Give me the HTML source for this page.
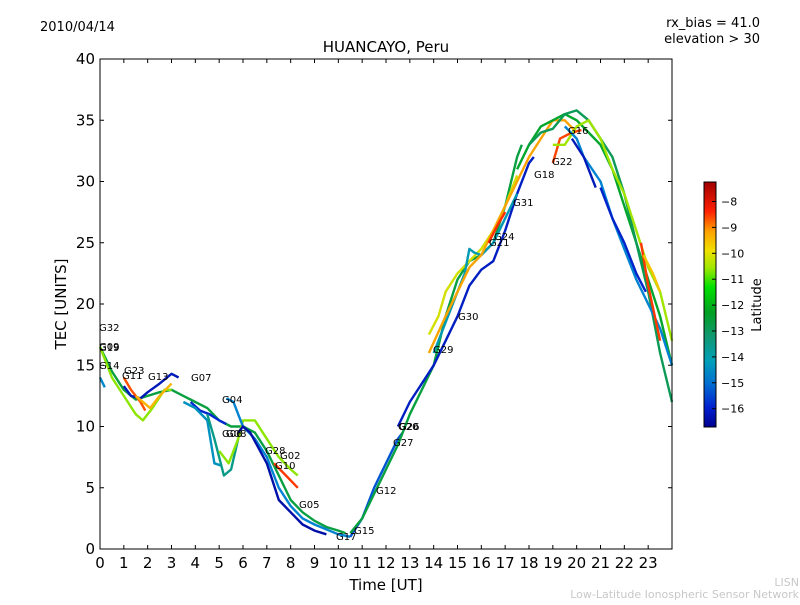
<!DOCTYPE html>
<html><head><meta charset="utf-8"><style>
body{margin:0;background:#fff;}
svg text{font-family:"DejaVu Sans","Liberation Sans",sans-serif;}
</style></head><body>
<svg id="chart" width="800" height="600" xmlns="http://www.w3.org/2000/svg">
<defs>
<linearGradient id="cbgrad" x1="0" y1="1" x2="0" y2="0">
<stop offset="0" stop-color="#00008f"/>
<stop offset="0.08" stop-color="#0020d0"/>
<stop offset="0.18" stop-color="#0070d0"/>
<stop offset="0.27" stop-color="#00a0b8"/>
<stop offset="0.37" stop-color="#109870"/>
<stop offset="0.47" stop-color="#00a020"/>
<stop offset="0.57" stop-color="#00e000"/>
<stop offset="0.65" stop-color="#a0e800"/>
<stop offset="0.72" stop-color="#f0e000"/>
<stop offset="0.80" stop-color="#ffa000"/>
<stop offset="0.88" stop-color="#ff2000"/>
<stop offset="1" stop-color="#a00000"/>
</linearGradient>
</defs>
<text x="40" y="31" font-size="13">2010/04/14</text>
<text x="760" y="27" font-size="13" text-anchor="end">rx_bias = 41.0</text>
<text x="760" y="43" font-size="13" text-anchor="end">elevation &gt; 30</text>
<text x="386" y="52" font-size="15" text-anchor="middle">HUANCAYO, Peru</text>
<g id="tracks"></g>
<g id="labels"></g>
<rect x="100" y="59" width="572" height="490" fill="none" stroke="#000" stroke-width="1"/>
<g id="axes"></g>
<text x="386" y="590" font-size="15" text-anchor="middle">Time [UT]</text>
<text x="0" y="0" font-size="15" text-anchor="middle" transform="translate(66,304) rotate(-90)">TEC [UNITS]</text>
<rect x="704" y="182" width="12" height="245" fill="url(#cbgrad)" stroke="#000" stroke-width="1"/>
<g id="cbticks"></g>
<text x="0" y="0" font-size="13" text-anchor="middle" transform="translate(761,305) rotate(-90)">Latitude</text>
<text x="799" y="586" font-size="11" fill="#c8c8c8" text-anchor="end">LISN</text>
<text x="799" y="598" font-size="11" fill="#c8c8c8" text-anchor="end">Low-Latitude Ionospheric Sensor Network</text>
</svg>
<script>
const xTicks=[0,1,2,3,4,5,6,7,8,9,10,11,12,13,14,15,16,17,18,19,20,21,22,23];
const yTicks=[0,5,10,15,20,25,30,35,40];
const cbTicks=[-8,-9,-10,-11,-12,-13,-14,-15,-16];
const trackLats=[-12.5,-11,-14.8,-16.3,-8.5,-9.5,-16,-14.5,-13.5,-11,-8.3,-15,-16.5,-15.5,-12.5,-10.3,-16.2,-14.2,-9.3,-8.2,-8.4,-12.2,-12.8,-10.8,-15,-16.3,-16.1,-8.3,-9.7];
const trackPts=[
[[0,16.5],[0.5,14.5],[1,13],[1.5,12.2],[2,12.5],[2.5,12.8],[3,13],[3.5,12.5],[4,12],[4.5,11.5],[5,10.5],[5.5,10],[6,10],[6.5,9.5],[7,8],[7.5,6],[8,4],[8.5,3],[9,2.3],[9.5,1.8],[10,1.5],[10.3,1.3]],
[[0,16.5],[0.5,14],[1,12.5],[1.5,11],[1.8,10.5],[2.2,11.5],[2.7,13],[3,13]],
[[0,14],[0.2,13.2]],
[[1,13.3],[1.3,12.5],[1.7,12.3],[2,12.8],[2.5,13.5],[3,14.3],[3.3,14]],
[[1,14],[1.3,13],[1.7,12],[1.9,11.3]],
[[1.5,12.5],[2.1,11.5],[2.5,12.5],[3,13.5]],
[[3.8,12],[4.2,11.3],[4.6,11],[5,10.5],[5.3,10.2]],
[[3.5,12],[4,11.5],[4.5,10.5],[4.8,7],[5.1,6.8]],
[[4.5,11],[4.8,9],[5.2,6],[5.5,6.5],[5.8,9]],
[[5,8],[5.4,7],[5.8,9],[6,10.5],[6.5,10.5],[7,9],[7.5,7.5],[8,6.5],[8.3,6]],
[[7.3,7],[7.8,6],[8.3,5]],
[[5.3,12.3],[5.6,12],[5.8,11],[6,10],[6.5,9],[7,7.5],[7.5,5],[8,3.5],[8.5,2.5],[9,2],[10,1.2],[10.5,1]],
[[5.8,9.5],[6,10],[6.3,9.5],[7,7],[7.5,4],[8,3],[8.5,2],[9,1.5],[9.5,1.2]],
[[10.5,1],[11,2.5],[11.5,5],[12,7],[12.5,9],[12.7,9.5]],
[[10.5,1.3],[11,2.5],[11.5,4.5],[12,6.5],[12.5,8.5],[13,11],[13.5,13],[14,15],[14.5,19],[15,22],[15.5,23.5],[16,24],[16.5,25],[17,28],[17.5,32],[17.7,33]],
[[13.8,17.5],[14.2,19],[14.5,21],[15,22.5],[15.5,23.5],[16,24.5],[16.5,26],[17,28],[17.5,30.5]],
[[12.5,10],[13,12],[13.5,13.5],[14,15],[14.5,17],[15,19],[15.5,21.5],[16,22.8],[16.5,23.5],[17,26],[17.5,29],[18,31.5],[18.2,32]],
[[14,16],[14.5,18.5],[15,21],[15.3,22.5],[15.5,24.5],[15.7,24.2],[16,24],[16.5,25],[17,27],[17.5,29]],
[[13.8,16],[14.5,19],[15,21],[15.5,23],[16,24],[16.5,26],[17,28],[17.5,30],[18,32],[18.5,33.5],[19,35],[19.5,35],[20,34]],
[[16.3,25],[16.7,26.5],[17,27.5]],
[[19,31.5],[19.3,33.5],[19.8,34],[20.2,34.2]],
[[17.5,31],[18,33],[18.5,34.5],[19,35],[19.5,35.5],[20,35],[20.5,34],[21,33],[21.5,31],[22,28],[22.5,25],[23,22],[23.5,19],[24,15]],
[[18,33],[18.5,34],[19,34.3],[19.5,35.5],[20,35.8],[20.5,35],[21,33.5],[21.5,32],[22,29],[22.5,25],[23,21],[23.5,16],[24,12]],
[[19,33],[19.5,33],[20,34.5],[20.5,35],[21,33.5],[21.5,31],[22,29],[22.5,26],[23,23],[23.5,21],[24,17]],
[[19.5,34.5],[20,33.5],[20.3,32],[21,30],[21.5,27],[22,24.5],[22.5,22],[23,20],[23.5,18],[24,15]],
[[19.8,33.5],[20.3,32],[20.8,29.5]],
[[21,29.5],[21.5,27],[22,25],[22.5,22.5],[22.9,21]],
[[22.7,25],[23,21.5],[23.5,17]],
[[22.8,24],[23.2,22.5],[23.5,21]]
];
const satNames=["G32","G09","G19","G14","G23","G11","G13","G07","G04","G06","G08","G28","G02","G10","G05","G17","G15","G12","G20","G26","G27","G29","G30","G21","G24","G31","G18","G22","G16"];
const satPos=[[99,331],[99,350],[99,351],[99,369],[124,374],[122,379],[148,380],[191,381],[222,403],[222,437],[226,437],[265,454],[280,459],[275,469],[299,508],[336,540],[354,534],[376,494],[398,430],[399,430],[393,446],[433,353],[458,320],[489,246],[494,240],[513,206],[534,178],[552,165],[568,134]];

const NS="http://www.w3.org/2000/svg";
const X0=100,X1=672,Y0=549,Y1=59;
function xs(h){return X0+h*(X1-X0)/24;}
function ys(v){return Y0-v*(Y0-Y1)/40;}
function cby(v){return 201.5+(-8-v)*25.9;}
const cstops=[[-16.8,[0,0,143]],[-16,[0,40,210]],[-15,[0,130,210]],[-14,[0,160,170]],[-13,[16,150,100]],[-12,[0,170,30]],[-11,[140,230,0]],[-10,[240,220,0]],[-9,[255,140,0]],[-8,[255,20,0]],[-7.3,[160,0,0]]];
function col(l){
 for(let i=0;i<cstops.length-1;i++){const a=cstops[i],b=cstops[i+1];
  if(l<=b[0]||i==cstops.length-2){let t=Math.max(0,Math.min(1,(l-a[0])/(b[0]-a[0])));
   const c=a[1].map((v,k)=>Math.round(v+(b[1][k]-v)*t));return `rgb(${c[0]},${c[1]},${c[2]})`;}}
}
const tg=document.getElementById('tracks');
trackPts.forEach((pts,i)=>{
 const p=document.createElementNS(NS,'polyline');
 p.setAttribute('points',pts.map(q=>xs(q[0]).toFixed(1)+','+ys(q[1]).toFixed(1)).join(' '));
 p.setAttribute('fill','none');p.setAttribute('stroke',col(trackLats[i]));
 p.setAttribute('stroke-width','2.4');p.setAttribute('stroke-linejoin','round');
 
 
 tg.appendChild(p);
});
const lg=document.getElementById('labels');
satNames.forEach((n,i)=>{
 const t=document.createElementNS(NS,'text');
 t.setAttribute('x',satPos[i][0]);t.setAttribute('y',satPos[i][1]);t.setAttribute('font-size','10');
 t.textContent=n;
 
 
 lg.appendChild(t);
});
const ag=document.getElementById('axes');
xTicks.forEach(v=>{
 const x=xs(v);
 [[Y0,Y0-4],[Y1,Y1+4]].forEach(s=>{const l=document.createElementNS(NS,'line');l.setAttribute('x1',x);l.setAttribute('x2',x);l.setAttribute('y1',s[0]);l.setAttribute('y2',s[1]);l.setAttribute('stroke','#000');
 
 
 ag.appendChild(l);});
 const t=document.createElementNS(NS,'text');t.setAttribute('x',x);t.setAttribute('y',568);t.setAttribute('font-size','15');t.setAttribute('text-anchor','middle');t.textContent=v;
 
 
 ag.appendChild(t);
});
yTicks.forEach(v=>{
 const y=ys(v);
 [[X0,X0+4],[X1,X1-4]].forEach(s=>{const l=document.createElementNS(NS,'line');l.setAttribute('x1',s[0]);l.setAttribute('x2',s[1]);l.setAttribute('y1',y);l.setAttribute('y2',y);l.setAttribute('stroke','#000');
 
 
 ag.appendChild(l);});
 const t=document.createElementNS(NS,'text');t.setAttribute('x',95);t.setAttribute('y',y+5);t.setAttribute('font-size','15');t.setAttribute('text-anchor','end');t.textContent=v;
 
 
 ag.appendChild(t);
});
const cg=document.getElementById('cbticks');
cbTicks.forEach(v=>{
 const y=cby(v);
 const l=document.createElementNS(NS,'line');l.setAttribute('x1',712);l.setAttribute('x2',716);l.setAttribute('y1',y);l.setAttribute('y2',y);l.setAttribute('stroke','#000');
 
 
 cg.appendChild(l);
 const t=document.createElementNS(NS,'text');t.setAttribute('x',721);t.setAttribute('y',y+4);t.setAttribute('font-size','11');t.textContent='\u2212'+(-v);
 
 
 cg.appendChild(t);
});
</script>
</body></html>
